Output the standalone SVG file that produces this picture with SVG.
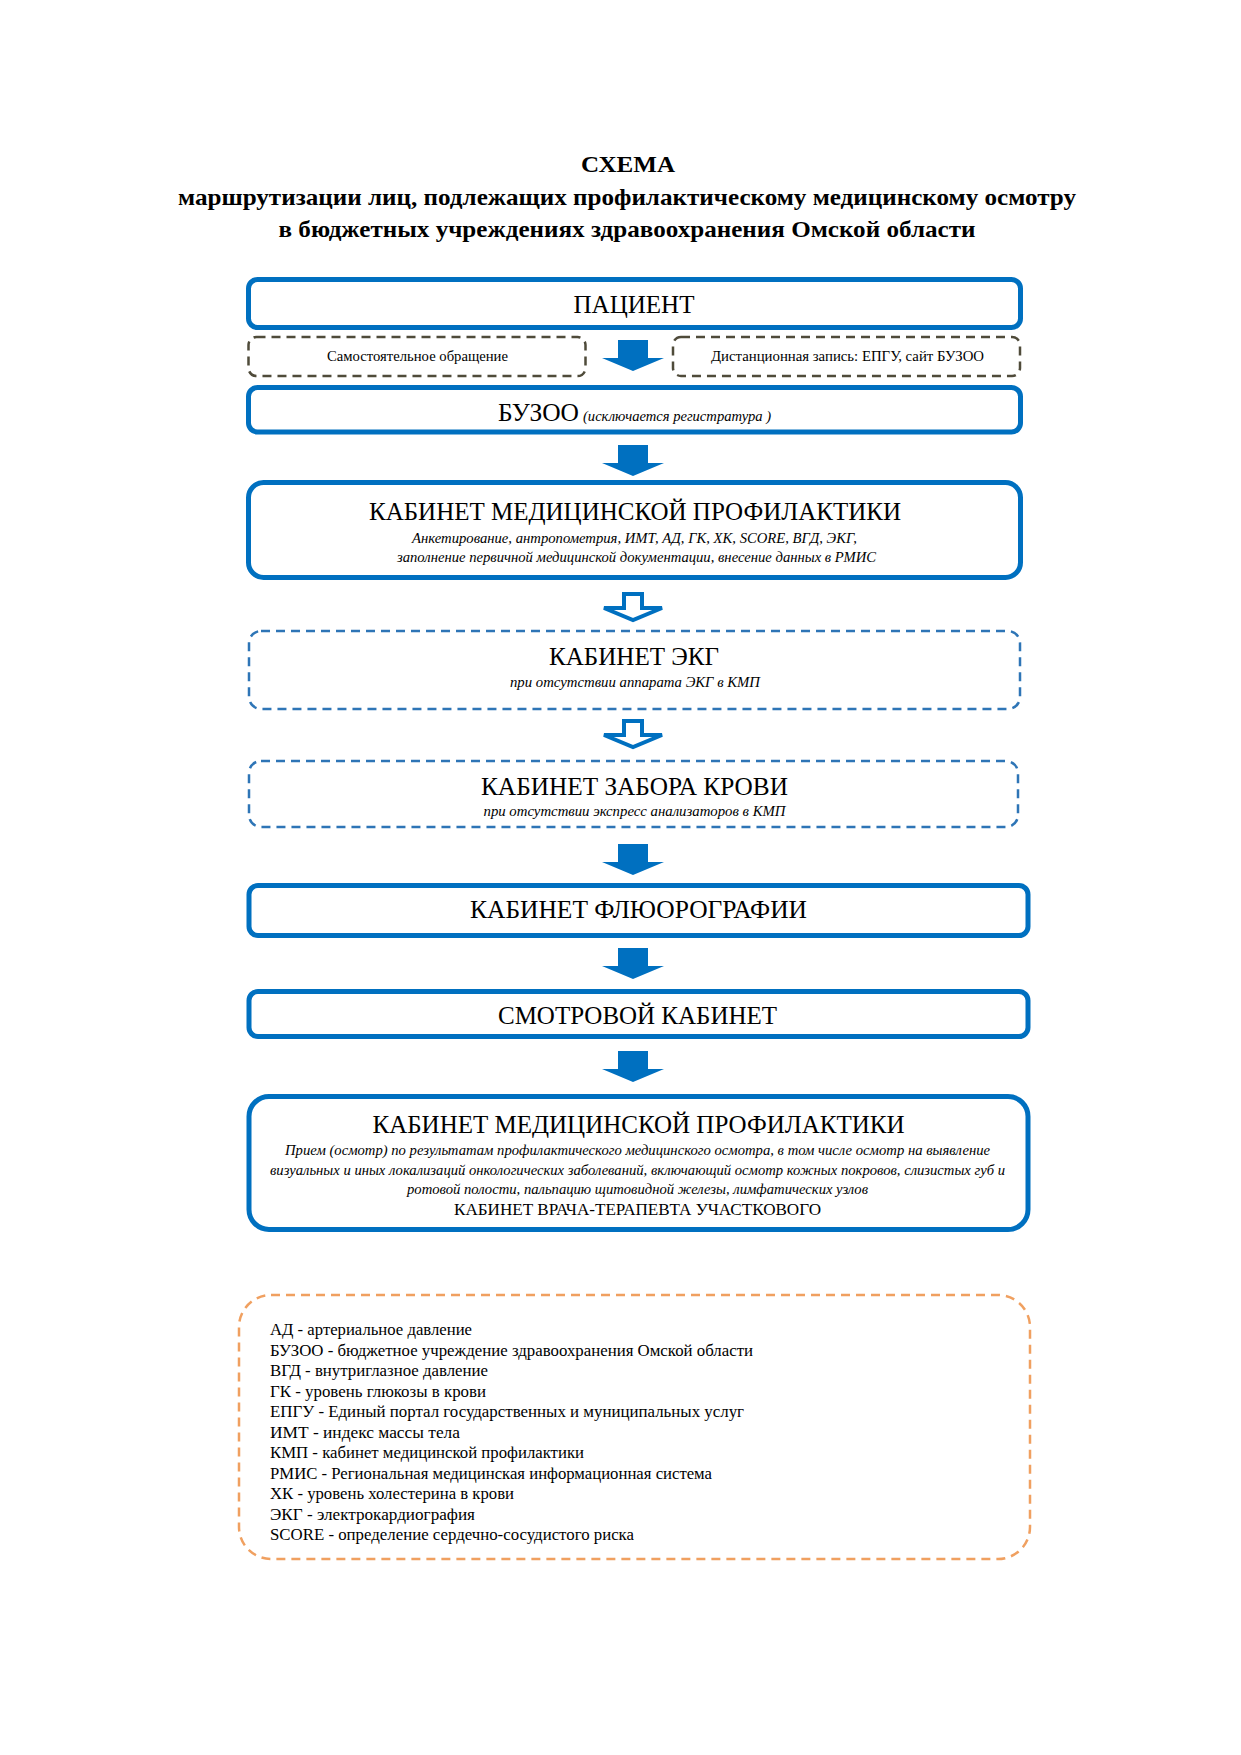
<svg xmlns="http://www.w3.org/2000/svg" width="1241" height="1755" viewBox="0 0 1241 1755">
<style>
text{font-family:"Liberation Serif","Times New Roman",serif;fill:#000}
.t{font-weight:bold;font-size:23px}
.big{font-size:26px}
.sm{font-size:14px}
.it{font-style:italic;font-size:14px}
.lg{font-size:16px}
.box{fill:#fff;stroke:#0070C0;stroke-width:5}
.dgray{fill:#fff;stroke:#4F4B3A;stroke-width:2.5;stroke-dasharray:9 6}
.dblue{fill:#fff;stroke:#2E75B6;stroke-width:2.5;stroke-dasharray:9 6}
.dor{fill:none;stroke:#F0A060;stroke-width:2.5;stroke-dasharray:9 6}
.arr{fill:#0070C0}
.harr{fill:#fff;stroke:#0070C0;stroke-width:4;stroke-linejoin:miter}
</style>
<defs>
<path id="a" class="arr" d="M-15 0H15V18H31L0 31L-31 18H-15Z"/>
<path id="h" class="harr" d="M-9 0H9V14H29L0 26L-29 14H-9Z"/>
</defs>
<rect width="1241" height="1755" fill="#fff"/>
<g id="title">
<text class="t" x="628" y="172" text-anchor="middle" textLength="94" lengthAdjust="spacingAndGlyphs">СХЕМА</text>
<text class="t" x="627" y="205" text-anchor="middle" textLength="898" lengthAdjust="spacingAndGlyphs">маршрутизации лиц, подлежащих профилактическому медицинскому осмотру</text>
<text class="t" x="627" y="237" text-anchor="middle" textLength="697" lengthAdjust="spacingAndGlyphs">в бюджетных учреждениях здравоохранения Омской области</text>
</g>
<g id="connectors">
<use href="#a" x="633" y="340"/>
<use href="#a" x="633" y="445"/>
<use href="#h" x="633" y="594"/>
<use href="#h" x="633" y="721"/>
<use href="#a" x="633" y="844"/>
<use href="#a" x="633" y="948"/>
<use href="#a" x="633" y="1051"/>
</g>
<g id="patient">
<rect class="box" x="248.5" y="279.5" width="772" height="48" rx="9"/>
<text class="big" x="634" y="313" text-anchor="middle" textLength="121" lengthAdjust="spacingAndGlyphs">ПАЦИЕНТ</text>
</g>
<g id="self">
<rect class="dgray" x="248.5" y="337" width="337" height="39" rx="8"/>
<text class="sm" x="417.5" y="361" text-anchor="middle" textLength="181" lengthAdjust="spacingAndGlyphs">Самостоятельное обращение</text>
</g>
<g id="remote">
<rect class="dgray" x="673" y="337" width="347" height="39" rx="8"/>
<text class="sm" x="847.5" y="361" text-anchor="middle" textLength="273" lengthAdjust="spacingAndGlyphs">Дистанционная запись: ЕПГУ, сайт БУЗОО</text>
</g>
<g id="buzoo">
<rect class="box" x="248.5" y="387.5" width="772" height="44.5" rx="9"/>
<text class="big" x="498" y="421" textLength="81" lengthAdjust="spacingAndGlyphs">БУЗОО</text>
<text class="it" x="583" y="421" textLength="188" lengthAdjust="spacingAndGlyphs">(исключается регистратура )</text>
</g>
<g id="kmp1">
<rect class="box" x="248.5" y="482.5" width="772" height="95" rx="15"/>
<text class="big" x="635" y="520" text-anchor="middle" textLength="532" lengthAdjust="spacingAndGlyphs">КАБИНЕТ МЕДИЦИНСКОЙ ПРОФИЛАКТИКИ</text>
<text class="it" x="634.5" y="543" text-anchor="middle" textLength="445" lengthAdjust="spacingAndGlyphs">Анкетирование, антропометрия, ИМТ, АД, ГК, ХК, SCORE, ВГД, ЭКГ,</text>
<text class="it" x="636.5" y="562" text-anchor="middle" textLength="479" lengthAdjust="spacingAndGlyphs">заполнение первичной медицинской документации, внесение данных в РМИС</text>
</g>
<g id="ekg">
<rect class="dblue" x="249" y="631" width="771" height="78" rx="12"/>
<text class="big" x="634" y="665" text-anchor="middle" textLength="170" lengthAdjust="spacingAndGlyphs">КАБИНЕТ ЭКГ</text>
<text class="it" x="635" y="687" text-anchor="middle" textLength="250" lengthAdjust="spacingAndGlyphs">при отсутствии аппарата ЭКГ в КМП</text>
</g>
<g id="blood">
<rect class="dblue" x="249" y="761" width="769" height="66" rx="12"/>
<text class="big" x="634.5" y="795" text-anchor="middle" textLength="307" lengthAdjust="spacingAndGlyphs">КАБИНЕТ ЗАБОРА КРОВИ</text>
<text class="it" x="634.5" y="816" text-anchor="middle" textLength="302" lengthAdjust="spacingAndGlyphs">при отсутствии экспресс анализаторов в КМП</text>
</g>
<g id="fluoro">
<rect class="box" x="249" y="885.5" width="779" height="50" rx="9"/>
<text class="big" x="638.5" y="918" text-anchor="middle" textLength="337" lengthAdjust="spacingAndGlyphs">КАБИНЕТ ФЛЮОРОГРАФИИ</text>
</g>
<g id="smotr">
<rect class="box" x="249" y="991.5" width="779" height="45" rx="9"/>
<text class="big" x="637.5" y="1024" text-anchor="middle" textLength="279" lengthAdjust="spacingAndGlyphs">СМОТРОВОЙ КАБИНЕТ</text>
</g>
<g id="kmp2">
<rect class="box" x="249" y="1096.5" width="779" height="133" rx="20"/>
<text class="big" x="638.5" y="1133" text-anchor="middle" textLength="532" lengthAdjust="spacingAndGlyphs">КАБИНЕТ МЕДИЦИНСКОЙ ПРОФИЛАКТИКИ</text>
<text class="it" x="637.5" y="1155" text-anchor="middle" textLength="705" lengthAdjust="spacingAndGlyphs">Прием (осмотр) по результатам профилактического медицинского осмотра, в том числе осмотр на выявление</text>
<text class="it" x="637.5" y="1175" text-anchor="middle" textLength="735" lengthAdjust="spacingAndGlyphs">визуальных и иных локализаций онкологических заболеваний, включающий осмотр кожных покровов, слизистых губ и</text>
<text class="it" x="637.5" y="1194" text-anchor="middle" textLength="461" lengthAdjust="spacingAndGlyphs">ротовой полости, пальпацию щитовидной железы, лимфатических узлов</text>
<text class="lg" x="637.5" y="1215" text-anchor="middle" textLength="367" lengthAdjust="spacingAndGlyphs">КАБИНЕТ ВРАЧА-ТЕРАПЕВТА УЧАСТКОВОГО</text>
</g>
<g id="legend">
<rect class="dor" x="239" y="1295" width="791" height="264" rx="32"/>
<text class="lg" x="270" y="1335" textLength="202" lengthAdjust="spacingAndGlyphs">АД - артериальное давление</text>
<text class="lg" x="270" y="1355.5" textLength="483" lengthAdjust="spacingAndGlyphs">БУЗОО - бюджетное учреждение здравоохранения Омской области</text>
<text class="lg" x="270" y="1376" textLength="218" lengthAdjust="spacingAndGlyphs">ВГД - внутриглазное давление</text>
<text class="lg" x="270" y="1396.5" textLength="216" lengthAdjust="spacingAndGlyphs">ГК - уровень глюкозы в крови</text>
<text class="lg" x="270" y="1417" textLength="474" lengthAdjust="spacingAndGlyphs">ЕПГУ - Единый портал  государственных и муниципальных услуг</text>
<text class="lg" x="270" y="1437.5" textLength="190" lengthAdjust="spacingAndGlyphs">ИМТ - индекс массы тела</text>
<text class="lg" x="270" y="1458" textLength="314" lengthAdjust="spacingAndGlyphs">КМП - кабинет медицинской профилактики</text>
<text class="lg" x="270" y="1478.5" textLength="442" lengthAdjust="spacingAndGlyphs">РМИС - Региональная медицинская информационная система</text>
<text class="lg" x="270" y="1499" textLength="244" lengthAdjust="spacingAndGlyphs">ХК - уровень холестерина в крови</text>
<text class="lg" x="270" y="1519.5" textLength="205" lengthAdjust="spacingAndGlyphs">ЭКГ -  электрокардиография</text>
<text class="lg" x="270" y="1540" textLength="364" lengthAdjust="spacingAndGlyphs">SCORE - определение сердечно-сосудистого риска</text>
</g>
</svg>
